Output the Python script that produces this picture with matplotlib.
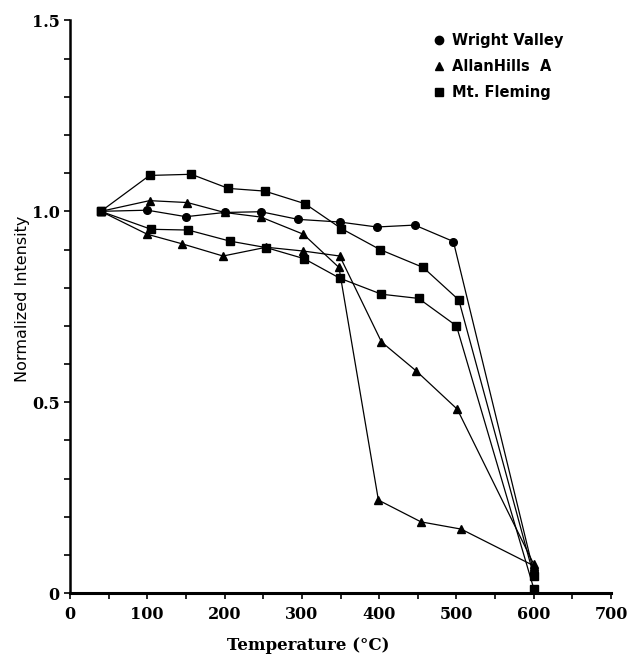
import numpy as np
import matplotlib
matplotlib.use("Agg")
from matplotlib import pyplot as plt
from matplotlib.lines import Line2D
from matplotlib.ticker import MultipleLocator, FixedLocator

# Wright Valley (circles)
wv_temp = [40, 100, 150, 200, 247, 295, 349, 397, 446, 496, 600]
wv_int = [1.0, 1.003, 0.986, 0.997, 0.999, 0.979, 0.972, 0.959, 0.964, 0.921, 0.055]

# Allan Hills A (triangles), two runs
ah1_temp = [40, 103, 152, 200, 247, 302, 348, 399, 454, 506, 600]
ah1_int = [1.0, 1.028, 1.023, 0.997, 0.985, 0.94, 0.853, 0.244, 0.187, 0.168, 0.072]
ah2_temp = [40, 100, 145, 198, 254, 302, 349, 403, 448, 501, 600]
ah2_int = [1.0, 0.94, 0.915, 0.883, 0.906, 0.896, 0.883, 0.658, 0.582, 0.482, 0.076]

# Mt. Fleming (squares), two runs
mf1_temp = [40, 103, 157, 205, 252, 304, 351, 401, 457, 503, 600]
mf1_int = [1.0, 1.094, 1.097, 1.06, 1.053, 1.02, 0.955, 0.90, 0.853, 0.768, 0.045]
mf2_temp = [40, 105, 153, 207, 254, 303, 349, 403, 451, 500, 600]
mf2_int = [1.0, 0.953, 0.951, 0.922, 0.905, 0.876, 0.825, 0.783, 0.772, 0.70, 0.012]

x_ticks = [0, 100, 200, 300, 400, 500, 600, 700]
y_ticks = [0, 0.5, 1.0, 1.5]
y_labels = ["0", "0.5", "1.0", "1.5"]
legend_labels = ["Wright Valley", "AllanHills  A", "Mt. Fleming"]

fig = plt.figure(figsize=(6.3, 6.57), dpi=100)
ax = fig.add_axes([0.111, 0.097, 0.859, 0.872])

style = dict(color="black", lw=0.9, markersize=5.5, markerfacecolor="black",
             markeredgecolor="black")
ax.plot(mf1_temp, mf1_int, marker="s", **style)
ax.plot(mf2_temp, mf2_int, marker="s", **style)
ax.plot(ah1_temp, ah1_int, marker="^", **style)
ax.plot(ah2_temp, ah2_int, marker="^", **style)
ax.plot(wv_temp, wv_int, marker="o", **style)

ax.set_xlim(0, 700)
ax.set_ylim(0, 1.5)

for s in ["top", "right"]:
    ax.spines[s].set_visible(False)
ax.spines["left"].set_linewidth(1.8)
ax.spines["bottom"].set_linewidth(2.2)

ax.xaxis.set_major_locator(FixedLocator(x_ticks))
ax.xaxis.set_minor_locator(MultipleLocator(50))
ax.set_yticks(y_ticks)
ax.set_yticklabels(y_labels)
ax.yaxis.set_minor_locator(MultipleLocator(0.1))
ax.tick_params(axis="both", which="both", direction="out", length=4, width=1.2)
ax.tick_params(axis="x", pad=5)

for lab in ax.get_xticklabels() + ax.get_yticklabels():
    lab.set_fontfamily("DejaVu Serif")
    lab.set_fontweight("bold")
    lab.set_fontsize(11.5)

fig.text(0.035, 0.545, "Normalized Intensity", rotation=90, ha="center",
         va="center", fontsize=11.5, family="DejaVu Sans")
fig.text(0.49, 0.018, "Temperature (°C)", ha="center", va="center",
         fontsize=12, fontweight="bold", family="DejaVu Serif")

handles = [
    Line2D([], [], ls="none", marker="o", color="black", markersize=6),
    Line2D([], [], ls="none", marker="^", color="black", markersize=6),
    Line2D([], [], ls="none", marker="s", color="black", markersize=6),
]
ax.legend(handles, legend_labels, loc="upper left", bbox_to_anchor=(0.65, 1.0),
          frameon=False, handlelength=0.6, handletextpad=0.6, labelspacing=0.75,
          prop={"family": "DejaVu Sans", "weight": "bold", "size": 10.5})

fig.savefig("out.png", dpi=100)
